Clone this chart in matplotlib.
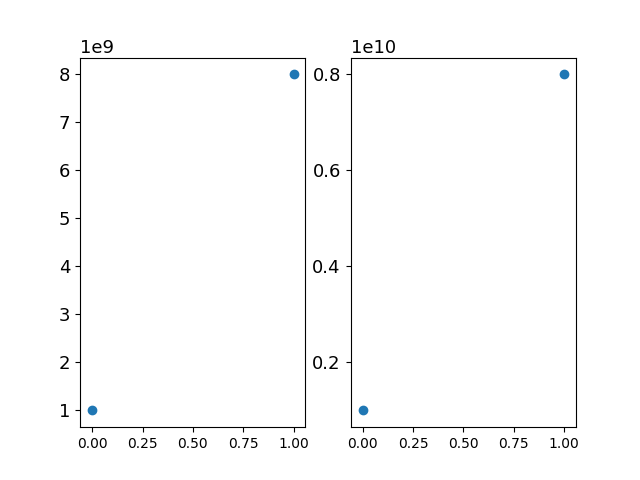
import numpy as np
import matplotlib
matplotlib.use('Agg')
import matplotlib.pyplot as plt
from matplotlib.ticker import MultipleLocator

x = [0, 1]
y = [1e9, 8e9]

fig, (ax1, ax2) = plt.subplots(1, 2, figsize=(6.4, 4.8), dpi=100)

ax1.scatter(x, y)
ax2.scatter(x, y)

for ax in (ax1, ax2):
    ax.set_xlim(-0.06, 1.058)
    ax.xaxis.set_major_locator(MultipleLocator(0.25))
    ax.tick_params(axis='y', labelsize=13)
    ax.yaxis.get_offset_text().set_fontsize(13)

# right panel forced to 1e10 scale
ax2.yaxis.set_major_locator(MultipleLocator(2e9))
ax2.ticklabel_format(axis='y', style='sci', scilimits=(10, 10))

fig.savefig('out.png')
